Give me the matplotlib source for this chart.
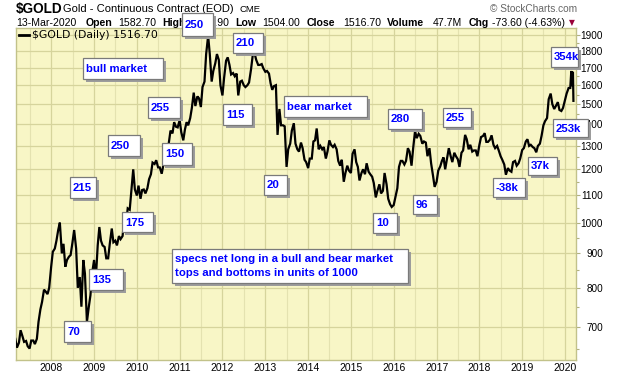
import matplotlib
matplotlib.use('Agg')
import matplotlib.pyplot as plt
from matplotlib.patches import Rectangle
from matplotlib.lines import Line2D
from matplotlib.ticker import FixedLocator, NullFormatter
import matplotlib.dates as mdates
import pandas as pd

# ---------------- data (semi-monthly readings: 1st and 15th) ----------------
gold_2007 = [672, 652, 663, 692, 678, 665, 667, 655, 650, 668, 668, 660,
             672, 712, 743, 762, 795, 790, 783, 800]            # from Mar 2007
gold_2008 = [860, 905, 915, 940, 975, 1000, 900, 930, 860, 880, 890, 895,
             935, 975, 915, 800, 830, 750, 880, 840, 712, 745, 780, 840]
gold_2009 = [880, 820, 925, 985, 940, 925, 920, 885, 885, 930, 980, 935,
             940, 925, 955, 945, 955, 1005, 1000, 1050, 1045, 1115, 1200, 1120]
gold_2010 = [1097, 1135, 1085, 1118, 1120, 1105, 1125, 1160, 1180, 1228, 1222, 1238,
             1208, 1208, 1182, 1218, 1250, 1270, 1315, 1370, 1357, 1410, 1388, 1385]
gold_2011 = [1420, 1362, 1325, 1375, 1410, 1395, 1430, 1480, 1560, 1490, 1540, 1530,
             1485, 1590, 1620, 1780, 1895, 1780, 1620, 1680, 1725, 1780, 1745, 1600]
gold_2012 = [1545, 1640, 1740, 1760, 1715, 1660, 1668, 1650, 1665, 1545, 1620, 1625,
             1600, 1590, 1600, 1615, 1690, 1770, 1785, 1745, 1715, 1715, 1720, 1695]
gold_2013 = [1675, 1680, 1665, 1610, 1575, 1595, 1600, 1350, 1475, 1395, 1395, 1390,
             1210, 1285, 1310, 1370, 1405, 1310, 1285, 1275, 1315, 1290, 1240, 1230]
gold_2014 = [1205, 1245, 1245, 1320, 1325, 1380, 1285, 1300, 1285, 1295, 1245, 1275,
             1325, 1305, 1295, 1305, 1285, 1235, 1215, 1240, 1150, 1185, 1215, 1195]
gold_2015 = [1185, 1265, 1285, 1230, 1210, 1155, 1185, 1200, 1180, 1225, 1190, 1180,
             1170, 1145, 1090, 1115, 1140, 1105, 1115, 1185, 1140, 1085, 1065, 1055]
gold_2016 = [1062, 1090, 1125, 1210, 1235, 1235, 1220, 1235, 1290, 1275, 1215, 1290,
             1368, 1335, 1355, 1345, 1310, 1320, 1315, 1255, 1290, 1225, 1175, 1130]
gold_2017 = [1150, 1195, 1212, 1235, 1250, 1200, 1250, 1290, 1255, 1230, 1270, 1255,
             1242, 1210, 1270, 1280, 1350, 1330, 1285, 1305, 1275, 1280, 1280, 1255]
gold_2018 = [1305, 1340, 1345, 1358, 1318, 1318, 1328, 1348, 1305, 1290, 1300, 1280,
             1255, 1240, 1220, 1178, 1205, 1195, 1190, 1230, 1235, 1215, 1225, 1245]
gold_2019 = [1282, 1290, 1320, 1330, 1300, 1305, 1295, 1290, 1272, 1300, 1310, 1345,
             1395, 1415, 1430, 1525, 1555, 1500, 1475, 1490, 1510, 1470, 1465, 1480]
gold_2020 = [1520, 1555, 1585, 1585]
tail_dates = ['2020-02-24', '2020-03-02', '2020-03-06', '2020-03-09', '2020-03-13']
tail_values = [1680, 1595, 1672, 1675, 1516.7]

year_starts = ['2007-03-01'] + [f'{y}-01-01' for y in range(2008, 2021)]
year_series = [gold_2007, gold_2008, gold_2009, gold_2010, gold_2011, gold_2012,
               gold_2013, gold_2014, gold_2015, gold_2016, gold_2017, gold_2018,
               gold_2019, gold_2020]

y_ticks = [700, 800, 900, 1000, 1100, 1200, 1300, 1400, 1500, 1600, 1700, 1800, 1900]

# ---------------- build series ----------------
dates, vals = [], []
for start, arr in zip(year_starts, year_series):
    dates.extend(pd.date_range(start, periods=len(arr), freq='SMS'))
    vals.extend(arr)
dates.extend(pd.to_datetime(tail_dates))
vals.extend(tail_values)

# ---------------- figure ----------------
W, H = 620, 376
fig = plt.figure(figsize=(W / 100, H / 100), dpi=100)
fig.patch.set_facecolor('white')
L, R, T, B = 16, 576, 28, 360
ax = fig.add_axes([L / W, 1 - B / H, (R - L) / W, (B - T) / H])

BG = '#f8f6c6'
GRID = '#d6d49c'
GRID_MINOR = '#e4e2b0'
ax.set_facecolor(BG)

ax.plot(dates, vals, color='black', lw=1.6, zorder=3, solid_joinstyle='miter')

ax.set_yscale('log')
ax.set_ylim(625, 1946)
ax.set_xlim(pd.Timestamp('2007-03-07'), pd.Timestamp('2020-04-04'))

# y axis on the right
ax.yaxis.tick_right()
ax.yaxis.set_major_locator(FixedLocator(y_ticks))
ax.yaxis.set_minor_locator(FixedLocator([t + 50 for t in y_ticks[:-1]] + [650]))
ax.yaxis.set_minor_formatter(NullFormatter())
ax.set_yticks(y_ticks, labels=[str(t) for t in y_ticks], ha='right',
              fontsize=7.2, family='Liberation Sans')
ax.tick_params(axis='y', which='major', length=3, width=0.8, color='#b0b080',
               pad=16.4, direction='out')
ax.tick_params(axis='y', which='minor', length=2, width=0.8, color='#b0b080',
               direction='out')

# x axis
ax.xaxis.set_major_locator(mdates.YearLocator())
ax.xaxis.set_minor_locator(mdates.MonthLocator(bymonth=7))
ax.xaxis.set_major_formatter(mdates.DateFormatter('%Y'))
ax.tick_params(axis='x', which='both', length=0, pad=2.5, labelsize=7.5)
for lbl in ax.get_xticklabels():
    lbl.set_family('Liberation Sans')

ax.grid(True, which='major', axis='both', color=GRID, lw=0.9, zorder=0)
ax.grid(True, which='minor', axis='x', color=GRID_MINOR, lw=0.8, zorder=0)
ax.set_axisbelow(True)
for sp in ax.spines.values():
    sp.set_color('#c2c28a')
    sp.set_linewidth(1.0)


# ---------------- helpers in pixel coordinates ----------------
def ftext(x, y, s, **kw):
    kw.setdefault('va', 'center')
    kw.setdefault('ha', 'left')
    kw.setdefault('family', 'Liberation Sans')
    return fig.text(x / W, 1 - y / H, s, **kw)


def note(x0, y0, x1, y1, lines, size=8.2):
    fig.add_artist(Rectangle(((x0 + 3) / W, 1 - (y1 + 3) / H), (x1 - x0) / W, (y1 - y0) / H,
                             transform=fig.transFigure, facecolor='#9c9c9c',
                             edgecolor='none', zorder=9))
    fig.add_artist(Rectangle((x0 / W, 1 - y1 / H), (x1 - x0) / W, (y1 - y0) / H,
                             transform=fig.transFigure, facecolor='white',
                             edgecolor='#7a7a7a', lw=0.9, zorder=10))
    n = len(lines)
    if n == 1:
        ftext(x0 + 3, (y0 + y1) / 2 + 0.5, lines[0], color='#0000ff', fontweight='bold',
              fontsize=size, zorder=11)
    else:
        step = 13.5
        yc = (y0 + y1) / 2 - step * (n - 1) / 2
        for i, s in enumerate(lines):
            ftext(x0 + 3, yc + i * step, s, color='#0000ff', fontweight='bold',
                  fontsize=size, zorder=11)


# ---------------- header ----------------
ftext(16, 9.5, '$GOLD', fontweight='bold', fontsize=9.8)
ftext(63, 9.5, 'Gold - Continuous Contract (EOD)', fontsize=8)
ftext(239, 10, 'CME', fontsize=6.8)
ftext(577, 9, '\u00a9 StockCharts.com', fontsize=7.3, color='#666666', ha='right')

row = [(16, '13-Mar-2020', False), (86, 'Open', True), (118, '1582.70', False),
       (162, 'High', True), (191, '1704.90', False), (235, 'Low', True),
       (262, '1504.00', False), (307, 'Close', True), (343, '1516.70', False),
       (387, 'Volume', True), (433, '47.7M', False), (469, 'Chg', True),
       (492, '-73.60 (-4.63%)', False)]
for x, s, b in row:
    ftext(x, 22.5, s, fontsize=7.6, fontweight='bold' if b else 'normal')
ftext(569, 22.5, '\u25bc', fontsize=5.5, color='#99003a', family='DejaVu Sans')

# legend
fig.add_artist(Line2D([19 / W, 29 / W], [1 - 34.5 / H, 1 - 34.5 / H], color='black',
                      lw=2, transform=fig.transFigure, zorder=6))
ftext(32, 34.5, '$GOLD (Daily) 1516.70', fontsize=7.8, family='DejaVu Sans', zorder=6)

# ---------------- annotation boxes ----------------
note(182, 13, 213, 36, ['250'])
note(233, 33, 263, 53, ['210'])
note(223, 104, 252, 125, ['115'])
note(284, 96, 367, 117, ['bear market'])
note(264, 175, 287, 195, ['20'])
note(83, 58, 163, 79, ['bull market'])
note(148, 97, 180, 118, ['255'])
note(108, 135, 140, 156, ['250'])
note(162, 143, 192, 165, ['150'])
note(70, 177, 96, 198, ['215'])
note(122, 212, 153, 232, ['175'])
note(89, 269, 123, 290, ['135'])
note(64, 321, 91, 342, ['70'])
note(172, 249, 408, 283, ['specs net long in a bull and bear market',
                          'tops and bottoms in units of 1000'])
note(388, 109, 422, 129, ['280'])
note(443, 108, 471, 127, ['255'])
note(373, 213, 397, 233, ['10'])
note(413, 195, 437, 214, ['96'])
note(493, 178, 525, 197, ['-38k'])
note(528, 157, 557, 175, ['37k'])
note(553, 119, 588, 137, ['253k'])
note(551, 47, 578, 67, ['354k'])

fig.savefig('out.png', dpi=100, facecolor='white')
